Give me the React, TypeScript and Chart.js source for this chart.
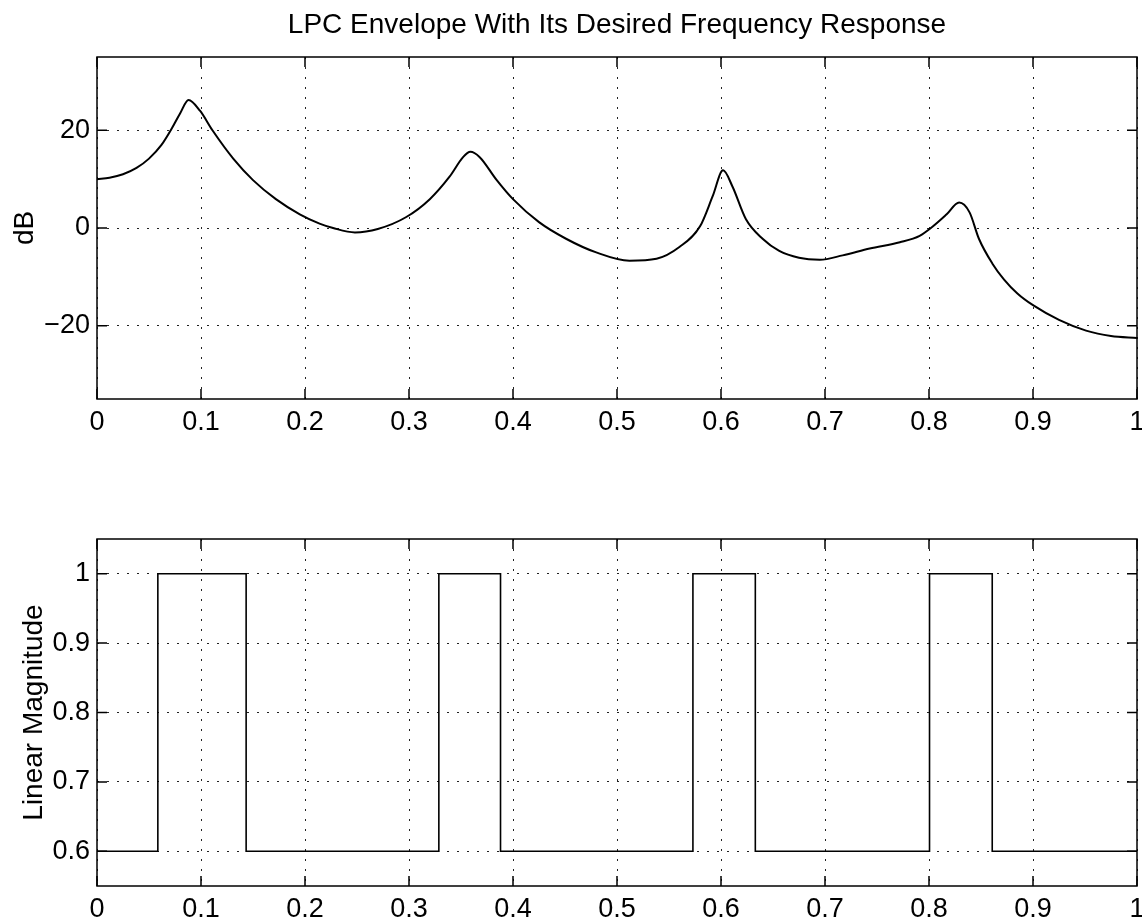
import React, { useEffect, useRef } from "react";
import { Chart, registerables } from "chart.js";

Chart.register(...registerables);

// ---------- data ----------
const TITLE = "LPC Envelope With Its Desired Frequency Response";
const TOP_Y_TITLE = "dB";
const BOTTOM_Y_TITLE = "Linear Magnitude";

const ENVELOPE_FREQ = [
  0.0, 0.012, 0.025, 0.038, 0.05, 0.062, 0.072, 0.08, 0.088, 0.099, 0.111, 0.131,
  0.15, 0.172, 0.195, 0.214, 0.227, 0.248, 0.27, 0.297, 0.32, 0.339, 0.352, 0.359,
  0.368, 0.384, 0.4, 0.425, 0.451, 0.48, 0.512, 0.538, 0.56, 0.58, 0.592, 0.602,
  0.611, 0.624, 0.64, 0.656, 0.675, 0.695, 0.717, 0.743, 0.772, 0.791, 0.803, 0.817,
  0.829, 0.839, 0.848, 0.861, 0.872, 0.885, 0.9, 0.925, 0.951, 0.975, 1.0,
];
const ENVELOPE_DB = [
  10.0, 10.3, 11.0, 12.3, 14.2, 17.0, 20.4, 23.5, 26.2, 24.0, 20.0, 14.2,
  9.8, 5.9, 2.8, 0.9, 0.0, -0.9, -0.2, 2.2, 5.9, 10.5, 14.5, 15.6,
  14.5, 9.9, 5.9, 1.2, -2.2, -5.0, -6.7, -6.3, -3.9, 0.4, 6.5, 11.8,
  8.5, 1.8, -2.2, -4.7, -6.1, -6.5, -5.6, -4.2, -2.9, -1.6, 0.2, 2.8,
  5.2, 3.2, -2.2, -7.3, -10.5, -13.4, -15.8, -18.8, -21.0, -22.1, -22.5,
];

const BAND_EDGES = [0, 0.0585, 0.1434, 0.3287, 0.388, 0.573, 0.633, 0.8005, 0.8608, 1];
const BAND_LEVELS = [0.6, 1, 0.6, 1, 0.6, 1, 0.6, 1, 0.6, 0.6];

const X_TICKS = [0, 0.1, 0.2, 0.3, 0.4, 0.5, 0.6, 0.7, 0.8, 0.9, 1];
const X_TICK_LABELS = ["0", "0.1", "0.2", "0.3", "0.4", "0.5", "0.6", "0.7", "0.8", "0.9", "1"];
const DB_TICKS = [-20, 0, 20];
const DB_TICK_LABELS = ["\u221220", "0", "20"];
const MAG_TICKS = [0.6, 0.7, 0.8, 0.9, 1];
const MAG_TICK_LABELS = ["0.6", "0.7", "0.8", "0.9", "1"];

const DB_RANGE = [-35, 35];
const MAG_RANGE = [0.55, 1.05];

// ---------- styling ----------
const FONT = "'Liberation Sans', Arial, Helvetica, sans-serif";
const CANVAS_W = 1160;
const CANVAS_H = 470;

const framePlugin = {
  id: "matlabFrame",
  afterDatasetsDraw(chart: any) {
    const { ctx, chartArea, scales } = chart;
    const { left, top, right, bottom } = chartArea;
    const xs = scales.x;
    const ys = scales.y;
    ctx.save();
    ctx.strokeStyle = "#000";
    ctx.lineWidth = 1.5;
    ctx.setLineDash([]);
    ctx.beginPath();
    xs.ticks.forEach((t: any) => {
      const p = xs.getPixelForValue(t.value);
      ctx.moveTo(p, bottom);
      ctx.lineTo(p, bottom - 10);
      ctx.moveTo(p, top);
      ctx.lineTo(p, top + 10);
    });
    ys.ticks.forEach((t: any) => {
      const p = ys.getPixelForValue(t.value);
      ctx.moveTo(left, p);
      ctx.lineTo(left + 10, p);
      ctx.moveTo(right, p);
      ctx.lineTo(right - 10, p);
    });
    ctx.stroke();
    ctx.strokeRect(left, top, right - left, bottom - top);
    ctx.restore();
  },
};

function labelFor(ticks: number[], labels: string[]) {
  return (value: any) => {
    const i = ticks.indexOf(Number(value));
    return i >= 0 ? labels[i] : "";
  };
}

function buildOptions(opts: {
  yTicks: number[];
  yLabels: string[];
  yRange: number[];
  yTitle: string;
  yTitlePad: number;
  xHeight: number;
  padTop: number;
  title?: string;
}) {
  const gridCommon = {
    color: "#222",
    lineWidth: 1,
    drawTicks: false,
    tickLength: 0,
  };
  return {
    responsive: false,
    animation: false as const,
    devicePixelRatio: 1,
    layout: { padding: { left: 0, right: CANVAS_W - 1137, top: opts.padTop, bottom: 0 } },
    plugins: {
      legend: { display: false },
      tooltip: { enabled: false },
      title: opts.title
        ? {
            display: true,
            text: opts.title,
            fullSize: false,
            color: "#000",
            font: { family: FONT, size: 28, weight: "normal" as const },
            padding: { top: 8, bottom: 15.4 },
          }
        : { display: false },
    },
    scales: {
      x: {
        type: "linear" as const,
        min: 0,
        max: 1,
        afterBuildTicks: (scale: any) => {
          scale.ticks = X_TICKS.map((v) => ({ value: v }));
        },
        afterFit: (scale: any) => {
          scale.height = opts.xHeight;
        },
        grid: gridCommon,
        border: { display: false, dash: [2, 8] },
        ticks: {
          autoSkip: false,
          maxRotation: 0,
          padding: 7,
          color: "#000",
          font: { family: FONT, size: 27 },
          callback: labelFor(X_TICKS, X_TICK_LABELS),
        },
      },
      y: {
        type: "linear" as const,
        min: opts.yRange[0],
        max: opts.yRange[1],
        afterBuildTicks: (scale: any) => {
          scale.ticks = opts.yTicks.map((v) => ({ value: v }));
        },
        afterFit: (scale: any) => {
          scale.width = 97;
        },
        grid: gridCommon,
        border: { display: false, dash: [2, 8] },
        ticks: {
          autoSkip: false,
          padding: 7,
          color: "#000",
          font: { family: FONT, size: 27 },
          callback: labelFor(opts.yTicks, opts.yLabels),
        },
        title: {
          display: true,
          text: opts.yTitle,
          color: "#000",
          font: { family: FONT, size: 28 },
          padding: { top: opts.yTitlePad, bottom: 0 },
        },
      },
    },
  };
}

function EnvelopeChart() {
  const ref = useRef<HTMLCanvasElement | null>(null);
  useEffect(() => {
    if (!ref.current) return;
    const points = ENVELOPE_FREQ.map((f, i) => ({ x: f, y: ENVELOPE_DB[i] }));
    const chart = new Chart(ref.current, {
      type: "line",
      data: {
        datasets: [
          {
            data: points,
            borderColor: "#000",
            borderWidth: 2,
            pointRadius: 0,
            cubicInterpolationMode: "monotone",
            fill: false,
          },
        ],
      },
      options: buildOptions({
        yTicks: DB_TICKS,
        yLabels: DB_TICK_LABELS,
        yRange: DB_RANGE,
        yTitle: TOP_Y_TITLE,
        yTitlePad: 8,
        xHeight: CANVAS_H - 399,
        padTop: 0,
        title: TITLE,
      }) as any,
      plugins: [framePlugin],
    });
    return () => chart.destroy();
  }, []);
  return (
    <canvas
      ref={ref}
      width={CANVAS_W}
      height={CANVAS_H}
      style={{ position: "absolute", left: 0, top: 0, width: CANVAS_W, height: CANVAS_H }}
    />
  );
}

function ResponseChart() {
  const ref = useRef<HTMLCanvasElement | null>(null);
  useEffect(() => {
    if (!ref.current) return;
    const points = BAND_EDGES.map((f, i) => ({ x: f, y: BAND_LEVELS[i] }));
    const chart = new Chart(ref.current, {
      type: "line",
      data: {
        datasets: [
          {
            data: points,
            borderColor: "#000",
            borderWidth: 1.6,
            pointRadius: 0,
            stepped: "before",
            fill: false,
          },
        ],
      },
      options: buildOptions({
        yTicks: MAG_TICKS,
        yLabels: MAG_TICK_LABELS,
        yRange: MAG_RANGE,
        yTitle: BOTTOM_Y_TITLE,
        yTitlePad: 17,
        xHeight: CANVAS_H - (886 - 470),
        padTop: 539 - 470,
      }) as any,
      plugins: [framePlugin],
    });
    return () => chart.destroy();
  }, []);
  return (
    <canvas
      ref={ref}
      width={CANVAS_W}
      height={CANVAS_H}
      style={{ position: "absolute", left: 0, top: 470, width: CANVAS_W, height: CANVAS_H }}
    />
  );
}

export default function App() {
  return (
    <div
      style={{
        position: "fixed",
        left: 0,
        top: 0,
        width: 1142,
        height: 922,
        overflow: "hidden",
        background: "#fff",
      }}
    >
      <EnvelopeChart />
      <ResponseChart />
    </div>
  );
}
